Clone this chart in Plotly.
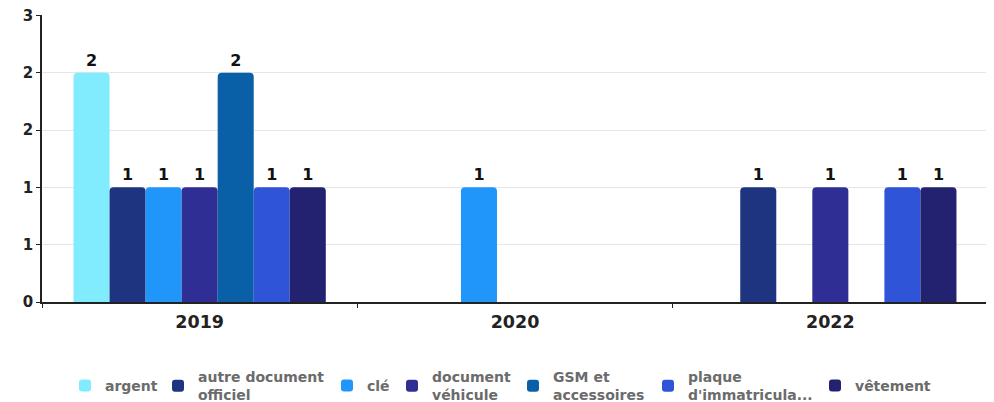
import plotly.graph_objects as go

years = ["2019", "2020", "2022"]
series_names = ["argent", "autre document officiel", "clé", "document véhicule",
                "GSM et accessoires", "plaque d'immatricula...", "vêtement"]
legend_labels = ["argent", "autre document<br>officiel", "clé", "document<br>véhicule",
                 "GSM et<br>accessoires", "plaque<br>d'immatricula...", "vêtement"]
values = [
    [2, None, None],      # argent
    [1, None, 1],         # autre document officiel
    [1, 1, None],         # clé
    [1, None, 1],         # document véhicule
    [2, None, None],      # GSM et accessoires
    [1, None, 1],         # plaque
    [1, None, 1],         # vêtement
]
colors = ["#80ECFD", "#1E3480", "#2196FA", "#2E2E94", "#0A60A6", "#3054D8", "#222270"]
ytick_vals = [0, 0.5, 1, 1.5, 2, 2.5]
ytick_text = ["0", "1", "1", "2", "2", "3"]

# legend text left edges (window px)
legend_text_px = [105, 198, 367, 432, 553, 688, 855]
PLOT_L, PLOT_R, PLOT_T, PLOT_B = 42, 988, 15, 302
LEG_Y = 386

fig = go.Figure()
legend_layouts = {}
for i, (name, lab, vals, col) in enumerate(zip(series_names, legend_labels, values, colors)):
    lname = "legend" if i == 0 else f"legend{i+1}"
    fig.add_trace(go.Bar(
        x=years, y=vals, name=lab, legend=lname,
        marker=dict(color=col, cornerradius=4, line=dict(width=0)),
        texttemplate="%{y}", textposition="outside", cliponaxis=False,
        textfont=dict(family="DejaVu Sans", size=16, color="#111111", weight="bold"),
    ))
    left_px = legend_text_px[i] - 40
    legend_layouts[lname] = dict(
        orientation="h",
        x=(left_px - PLOT_L) / (PLOT_R - PLOT_L), xanchor="left",
        y=(PLOT_B - LEG_Y) / (PLOT_B - PLOT_T), yanchor="middle",
        valign="middle", bgcolor="rgba(0,0,0,0)", borderwidth=0,
        font=dict(family="DejaVu Sans", size=14, color="#6b6b6b", weight="bold"),
        itemwidth=30,
    )

# page body has an 8px offset; figure sized to fit the 994x402 window
fig.update_layout(
    width=986, height=394,
    margin=dict(l=34, r=6, t=7, b=100, autoexpand=False),
    barmode="group", bargap=0.2, bargroupgap=0,
    plot_bgcolor="white", paper_bgcolor="white",
    font=dict(family="DejaVu Sans"),
    showlegend=True,
    **legend_layouts,
)
fig.update_xaxes(
    automargin=False,
    showline=True, linecolor="#222222", linewidth=1.5,
    ticks="outside", ticklen=4, tickcolor="#222222", tickson="boundaries",
    ticklabelstandoff=3,
    tickfont=dict(family="DejaVu Sans", size=17.5, color="#222222", weight="bold"),
    showgrid=False,
)
fig.update_yaxes(
    automargin=False,
    range=[0, 2.503], tickvals=ytick_vals, ticktext=ytick_text,
    ticklabeloverflow="allow",
    showline=True, linecolor="#222222", linewidth=1.5,
    ticks="outside", ticklen=4, tickcolor="#222222",
    showgrid=True, gridcolor="#e6e6e6", gridwidth=1,
    zeroline=False,
    tickfont=dict(family="DejaVu Sans", size=15, color="#222222", weight="bold"),
)
fig.write_html("out.html")
